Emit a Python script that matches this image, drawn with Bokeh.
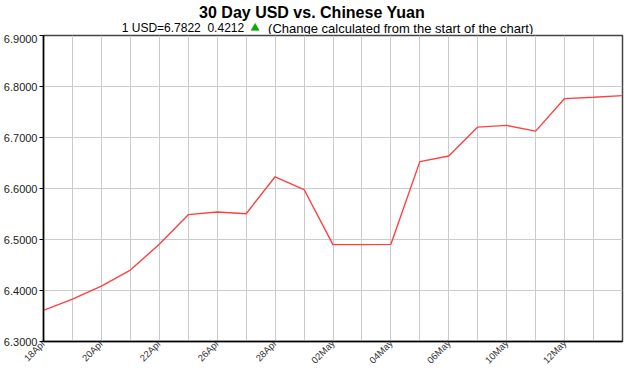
import math
from bokeh.plotting import figure
from bokeh.layouts import column
from bokeh.models import Range1d, FixedTicker, NumeralTickFormatter
from bokeh.core.properties import value
from bokeh.embed import file_html
from bokeh.resources import INLINE

# ---- data ----
dates = ["18Apr", "19Apr", "20Apr", "21Apr", "22Apr", "25Apr", "26Apr", "27Apr",
         "28Apr", "29Apr", "02May", "03May", "04May", "05May", "06May", "09May",
         "10May", "11May", "12May", "13May", "16May"]
rates = [6.3610, 6.3829, 6.4086, 6.4400, 6.4908, 6.5487, 6.5540, 6.5506,
         6.6230, 6.5980, 6.4900, 6.4900, 6.4905, 6.6527, 6.6637, 6.7204,
         6.7237, 6.7125, 6.7763, 6.7790, 6.7822]
y_ticks = [6.3, 6.4, 6.5, 6.6, 6.7, 6.8, 6.9]
title_text = "30 Day USD vs. Chinese Yuan"
last_rate = rates[-1]
change = rates[-1] - rates[0]

FONT = "Liberation Sans"
W, HEAD, H = 630, 34, 372
LEFT, RIGHT = 42, 8
idx = list(range(len(dates)))
label_idx = idx[:-1:2]          # labelled ticks
minor_idx = [i for i in idx if i not in label_idx]

# ---- header (title + subtitle); its frame is aligned with the chart frame ----
head = figure(width=W, height=HEAD, output_backend="svg", toolbar_location=None,
              x_range=Range1d(LEFT, W - RIGHT), y_range=Range1d(HEAD, 0),
              min_border=0, x_axis_type=None, y_axis_type=None)
head.title = None
head.outline_line_color = None
head.xgrid.visible = False
head.ygrid.visible = False
head.text(x=[311], y=[11.5], text=[title_text], text_font=value(FONT),
          text_font_size="16px", text_font_style="bold", text_align="center",
          text_baseline="middle", text_color="black")
head.text(x=[243], y=[27.5], text=[f"1 USD={last_rate:.4f}\u00a0\u00a0{change:.4f}"],
          text_font=value(FONT), text_font_size="12px", text_align="right",
          text_baseline="middle", text_color="black")
head.scatter(x=[254], y=[27.5], marker="triangle", size=8,
             fill_color="#00b000", line_color="#008800", line_width=0.5)
head.text(x=[267], y=[27.5], text=["(Change calculated from the start of the chart)"],
          text_font=value(FONT), text_font_size="13px", text_align="left",
          text_baseline="middle", text_color="black")

# ---- main chart ----
p = figure(width=W, height=H - HEAD, output_backend="svg", toolbar_location=None,
           x_range=Range1d(0, len(dates) - 1), y_range=Range1d(y_ticks[0], y_ticks[-1]),
           min_border_left=LEFT, min_border_right=RIGHT, min_border_bottom=30, min_border_top=1)
p.title = None

p.line(idx, rates, line_color="#ff4040", line_width=1.4)

p.xaxis.ticker = FixedTicker(ticks=label_idx, minor_ticks=minor_idx)
p.xaxis.major_label_overrides = {i: dates[i] for i in label_idx}
p.xaxis.major_label_orientation = math.pi / 4
p.xaxis.major_label_text_font = FONT
p.xaxis.major_label_text_font_size = "9.5px"
p.xaxis.major_label_text_color = "#333333"
p.xaxis.major_tick_out = 0
p.xaxis.major_tick_in = 0
p.xaxis.minor_tick_out = 0
p.xaxis.minor_tick_in = 0
p.xaxis.major_label_standoff = 0
p.xaxis.axis_line_color = "black"
p.xaxis.axis_line_width = 1.5

p.yaxis.ticker = FixedTicker(ticks=y_ticks)
p.yaxis.formatter = NumeralTickFormatter(format="0.0000")
p.yaxis.major_label_text_font = FONT
p.yaxis.major_label_text_font_size = "11px"
p.yaxis.major_label_text_color = "#222222"
p.yaxis.major_tick_out = 4
p.yaxis.major_tick_in = 0
p.yaxis.minor_tick_out = 0
p.yaxis.minor_tick_in = 0
p.yaxis.major_label_standoff = 2
p.yaxis.axis_line_color = "black"
p.yaxis.axis_line_width = 1.5

p.xgrid.ticker = FixedTicker(ticks=label_idx, minor_ticks=minor_idx)
p.xgrid.grid_line_color = "#cccccc"
p.xgrid.minor_grid_line_color = "#cccccc"
p.ygrid.grid_line_color = "#cccccc"
p.outline_line_color = "#444444"
p.outline_line_width = 1.5
p.background_fill_color = "white"
p.border_fill_color = "white"

layout = column(head, p, spacing=0)
open("out.html", "w").write(file_html(layout, INLINE))
